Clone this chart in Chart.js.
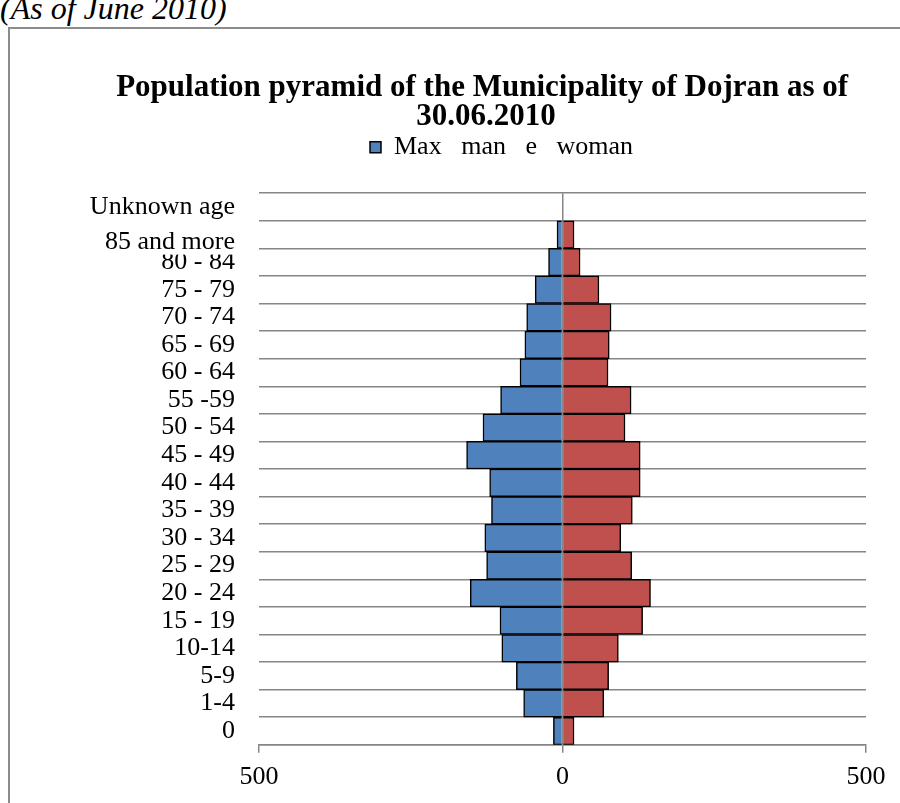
<!DOCTYPE html>
<html><head><meta charset="utf-8">
<script src="https://cdn.jsdelivr.net/npm/chart.js@4/dist/chart.umd.min.js"></script>
<style>
html,body{margin:0;padding:0;background:#fff;overflow:hidden}
#wrap{position:relative;width:900px;height:803px;overflow:hidden}
#frame{position:absolute;left:8px;top:27px;width:1000px;height:1000px;border-left:2px solid #8c8c8c;border-top:2px solid #8c8c8c}
#note{position:absolute;left:0px;top:-8px;font:italic 32px "Liberation Serif";line-height:1;color:#000;white-space:nowrap}
canvas{position:absolute;left:0;top:0}
</style></head><body>
<div id="wrap">
<div id="note">(As of June 2010)</div>
<div id="frame"></div>
<canvas id="c" width="900" height="803"></canvas>
</div>
<script>
const ageGroups = ['0','1-4','5-9','10-14','15 - 19','20 - 24','25 - 29','30 - 34','35 - 39','40 - 44','45 - 49','50 - 54','55 -59','60 - 64','65 - 69','70 - 74','75 - 79','80 - 84','85 and more','Unknown age'];
const men   = [-15,-64,-76,-100,-103,-152,-125,-128,-117,-120,-158,-131,-102,-70,-62,-59,-45,-23,-9,0];
const women = [19,68,76,92,132,145,114,96,115,128,128,103,113,75,77,80,60,29,19,0];
const xTicks = [-500,0,500];
const titleLines = ['Population pyramid of the Municipality of Dojran as of\u00A0\u00A0\u00A0\u00A0\u00A0', '30.06.2010\u00A0\u00A0\u00A0\u00A0'];
const legendText = 'Max\u00A0\u00A0\u00A0man\u00A0\u00A0\u00A0e\u00A0\u00A0\u00A0woman';

const BLUE = '#4F81BD', RED = '#C0504D', GRID = '#868686';
const serif = 'Liberation Serif, Times New Roman, serif';
const SHIFTED = 18; // index of the "85 and more" label, drawn lower in the original

new Chart(document.getElementById('c'), {
  type: 'bar',
  data: {
    labels: ageGroups.map((l, i) => i === SHIFTED ? ['', l] : l),
    datasets: [
      {label: 'man', data: men, xAxisID: 'x', yAxisID: 'y', backgroundColor: BLUE, borderColor: '#000', borderWidth: 1.5, barPercentage: 1, categoryPercentage: 1},
      {label: 'woman', data: women, xAxisID: 'x', yAxisID: 'y', backgroundColor: RED, borderColor: '#000', borderWidth: 1.5, barPercentage: 1, categoryPercentage: 1}
    ]
  },
  options: {
    indexAxis: 'y',
    responsive: false,
    animation: false,
    layout: {padding: {left: 103, right: 0, top: 0, bottom: 1}},
    scales: {
      x: {
        type: 'linear', min: -500, max: 500, stacked: true, z: 1,
        afterBuildTicks: s => { s.ticks = xTicks.map(v => ({value: v})); },
        ticks: {callback: v => Math.abs(v), font: {family: serif, size: 26}, color: '#000', padding: 9, maxRotation: 0},
        grid: {color: c => (c.tick && c.tick.value === 0) ? GRID : 'rgba(0,0,0,0)', tickColor: GRID, tickLength: 8, lineWidth: 1.5},
        border: {display: true, color: GRID, width: 1.5}
      },
      y: {
        type: 'category', stacked: true, reverse: true,
        ticks: {
          autoSkip: false, color: '#000', padding: 24,
          font: c => ({family: serif, size: 26, lineHeight: c.index === SHIFTED ? 0.6 : 1.2}),
          showLabelBackdrop: c => c.index === SHIFTED,
          backdropColor: '#fff',
          backdropPadding: {top: 0, left: 0, right: 0, bottom: 12}
        },
        grid: {offset: true, color: GRID, drawTicks: false, lineWidth: 1.5},
        border: {display: false},
        afterFit: s => { s.width = 156; s._computeLabelArea = () => undefined; }
      },
      xTop: {
        type: 'linear', axis: 'x', position: 'top', display: true, min: 0, max: 1,
        grid: {display: false}, ticks: {display: false}, border: {display: false},
        afterFit: s => { s.height = 23; }
      },
      yRight: {
        type: 'linear', axis: 'y', position: 'right', display: true, min: 0, max: 1,
        grid: {display: false}, ticks: {display: false}, border: {display: false},
        afterFit: s => { s.width = 34; }
      }
    },
    plugins: {
      title: {display: true, text: titleLines, color: '#000', font: {family: serif, size: 31, weight: 'bold', lineHeight: 0.955}, padding: {top: 73, bottom: 2}},
      legend: {
        display: true, onClick: null,
        labels: {
          boxWidth: 11, boxHeight: 11, padding: 0, color: '#000',
          font: {family: serif, size: 26},
          generateLabels: () => [{
            text: legendText, fillStyle: BLUE, strokeStyle: '#000', lineWidth: 1.5,
            hidden: false, fontColor: '#000', datasetIndex: 0
          }]
        }
      },
      tooltip: {enabled: false}
    }
  }
});
</script>
</body></html>
